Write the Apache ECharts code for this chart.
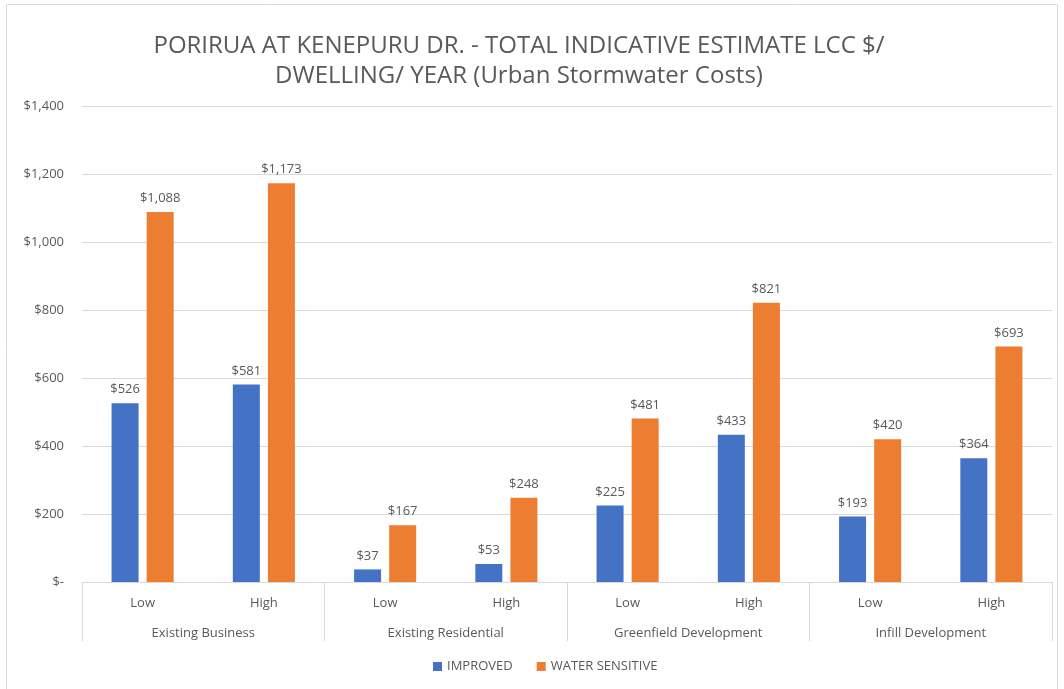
<!DOCTYPE html>
<html>
<head>
<meta charset="utf-8">
<script src="https://cdn.jsdelivr.net/npm/echarts@6/dist/echarts.min.js"></script>
<style>
  html, body { margin: 0; padding: 0; background: #fff; }
  #chart { width: 1064px; height: 689px; }
</style>
</head>
<body>
<div id="chart"></div>
<script>
  // 数据
  const groups = ["Existing Business", "Existing Residential", "Greenfield Development", "Infill Development"];
  const levels = ["Low", "High", "Low", "High", "Low", "High", "Low", "High"];
  const improved = [526, 581, 37, 53, 225, 433, 193, 364];
  const waterSensitive = [1088, 1173, 167, 248, 481, 821, 420, 693];
  const seriesNames = ["IMPROVED", "WATER SENSITIVE"];

  const FONT = "Open Sans";
  const GREY = "#595959";
  const LINE = "#d9d9d9";

  const money = (v) => (v === 0 ? "$-" : "$" + v.toLocaleString("en-US"));

  const chart = echarts.init(document.getElementById("chart"));
  const option = {
    animation: false,
    textStyle: { fontFamily: FONT },
    title: {
      text: "PORIRUA AT KENEPURU DR. - TOTAL INDICATIVE ESTIMATE LCC $/\nDWELLING/ YEAR (Urban Stormwater Costs)",
      left: 514,
      top: 26,
      textAlign: "center",
      textStyle: { fontFamily: FONT, fontSize: 24, fontWeight: "normal", color: GREY, lineHeight: 30 }
    },
    legend: {
      data: seriesNames,
      bottom: 11,
      left: 428,
      itemWidth: 9,
      itemHeight: 9,
      itemGap: 24,
      icon: "rect",
      textStyle: { fontFamily: FONT, fontSize: 13, color: GREY }
    },
    grid: { left: 82, right: 12, top: 106, bottom: 107 },
    xAxis: [
      {
        type: "category",
        data: levels,
        axisLine: { lineStyle: { color: LINE } },
        axisTick: { show: false },
        axisLabel: { color: GREY, fontSize: 13, margin: 15, interval: 0 }
      },
      {
        type: "category",
        data: groups,
        position: "bottom",
        axisLine: { show: false },
        axisTick: { show: true, length: 59, interval: 0, lineStyle: { color: LINE } },
        axisLabel: { color: GREY, fontSize: 13, margin: 45, interval: 0 },
        splitLine: { show: false }
      }
    ],
    yAxis: {
      type: "value",
      min: 0,
      max: 1400,
      interval: 200,
      axisLine: { show: false },
      axisTick: { show: false },
      splitLine: { lineStyle: { color: LINE } },
      axisLabel: { color: GREY, fontSize: 13, margin: 18, formatter: money }
    },
    series: [
      {
        name: seriesNames[0],
        type: "bar",
        xAxisIndex: 0,
        data: improved,
        barWidth: 27,
        barGap: "30%",
        itemStyle: { color: "#4472c4" },
        label: { show: true, position: "top", distance: 7, color: GREY, fontSize: 13, formatter: (p) => money(p.value) }
      },
      {
        name: seriesNames[1],
        type: "bar",
        xAxisIndex: 0,
        data: waterSensitive,
        barWidth: 27,
        barGap: "30%",
        itemStyle: { color: "#ed7d31" },
        label: { show: true, position: "top", distance: 7, color: GREY, fontSize: 13, formatter: (p) => money(p.value) }
      }
    ],
    graphic: [
      {
        type: "rect",
        shape: { x: 6.5, y: 4.5, width: 1051, height: 700 },
        style: { fill: null, stroke: LINE, lineWidth: 1 },
        silent: true
      }
    ]
  };
  chart.setOption(option);
</script>
</body>
</html>
